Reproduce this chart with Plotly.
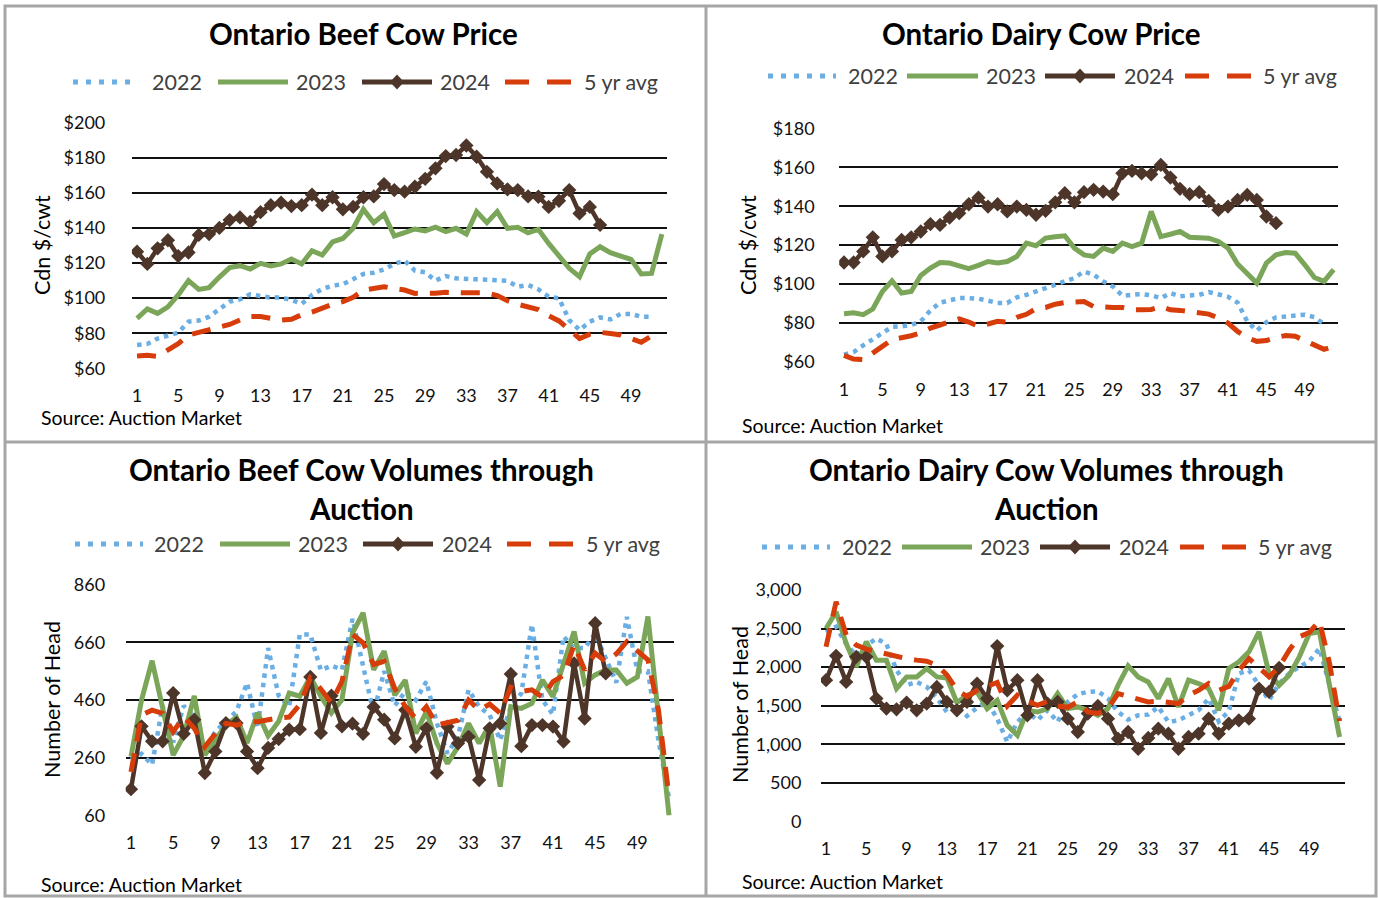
import plotly.graph_objects as go

# ---------------- data ----------------
weeks = list(range(1, 53))
x_tick_vals = list(range(1, 50, 4))
series_names = ["2022", "2023", "2024", "5 yr avg"]

beef_price_2022 = [73.3, 73.9, 77.0, 78.4, 80.3, 86.6, 87.2, 89.4, 93.6, 98.0,
                   99.3, 102.2, 101.2, 100.3, 100.3, 99.0, 96.7, 101.8, 105.2, 107.1,
                   107.9, 110.7, 113.8, 114.5, 116.4, 119.5, 121.4, 115.7, 114.7, 110.0,
                   112.6, 111.3, 110.7, 110.7, 110.5, 110.3, 109.8, 106.5, 107.5, 105.0,
                   100.8, 99.9, 87.5, 81.8, 86.6, 89.0, 87.9, 91.0, 91.0, 89.4,
                   89.4, None]
beef_price_2023 = [88.5, 93.8, 91.3, 95.0, 101.8, 110.0, 105.0, 106.0, 112.0, 117.4,
                   118.5, 116.6, 119.8, 118.3, 119.5, 122.3, 119.5, 127.0, 124.6, 132.0,
                   134.0, 139.8, 150.6, 143.0, 147.8, 135.4, 137.3, 139.4, 138.3, 140.4,
                   137.9, 139.8, 136.5, 149.3, 143.0, 149.3, 139.8, 140.4, 137.3, 139.2,
                   131.2, 124.6, 117.0, 112.2, 125.2, 129.3, 125.9, 124.0, 122.1, 113.8,
                   114.1, 136.5]
beef_price_2024 = [126.5, 119.5, 128.4, 133.0, 124.0, 126.0, 136.0, 136.5, 140.0, 144.5,
                   146.0, 143.5, 149.0, 153.0, 154.4, 152.5, 153.0, 159.0, 153.0, 157.5,
                   150.6, 152.0, 157.5, 158.0, 165.0, 161.6, 160.7, 163.5, 168.0, 174.0,
                   181.0, 181.6, 187.0, 180.6, 172.0, 165.4, 162.0, 161.6, 158.0, 157.8,
                   152.0, 155.5, 161.6, 148.3, 152.0, 141.7, None, None, None, None,
                   None, None]
beef_price_5yr = [67.0, 67.4, 66.8, 70.0, 74.0, 79.0, 80.5, 82.0, 83.5, 85.0,
                  87.5, 89.5, 89.5, 88.5, 87.5, 88.0, 90.5, 92.0, 94.5, 96.5,
                  98.0, 100.5, 104.5, 105.5, 106.5, 105.5, 104.6, 102.7, 102.5, 102.8,
                  103.3, 103.5, 103.0, 103.0, 103.0, 101.5, 98.5, 96.5, 95.0, 93.5,
                  90.0, 87.0, 82.0, 77.0, 79.5, 80.5, 79.8, 79.0, 77.0, 74.8,
                  78.5, None]

dairy_price_2022 = [63.8, 65.1, 68.5, 71.5, 74.5, 78.0, 78.3, 79.0, 80.9, 86.5,
                    90.5, 91.5, 92.8, 92.8, 92.5, 91.5, 90.3, 90.3, 93.2, 94.5,
                    96.2, 98.3, 100.0, 101.4, 103.1, 106.5, 104.8, 101.4, 98.8, 94.0,
                    94.5, 94.9, 94.2, 92.8, 95.4, 93.7, 94.2, 94.5, 95.9, 94.5,
                    93.5, 90.5, 80.9, 76.1, 80.5, 82.9, 83.5, 84.1, 84.3, 83.0,
                    79.5, None]
dairy_price_2023 = [84.8, 85.3, 84.3, 87.2, 96.2, 101.7, 95.4, 96.2, 104.4, 108.2,
                    111.1, 110.8, 109.4, 107.9, 109.6, 111.6, 110.8, 111.6, 114.2, 121.0,
                    119.7, 123.6, 124.3, 124.8, 118.5, 115.0, 114.2, 118.5, 116.8, 121.0,
                    119.3, 121.0, 137.3, 124.4, 125.6, 127.0, 124.1, 123.6, 123.6, 121.9,
                    118.5, 110.3, 105.1, 100.5, 110.8, 115.0, 116.2, 115.9, 109.9, 103.4,
                    101.4, 107.4]
dairy_price_2024 = [111.1, 111.1, 116.8, 124.0, 114.2, 116.8, 122.7, 124.0, 127.0, 130.8,
                    130.4, 134.2, 136.4, 141.0, 144.4, 139.8, 141.0, 137.3, 139.8, 138.1,
                    135.6, 137.6, 142.0, 146.7, 142.0, 147.2, 148.4, 147.5, 146.2, 156.9,
                    158.1, 156.9, 156.4, 161.2, 154.7, 148.9, 146.2, 147.2, 142.7, 138.1,
                    139.8, 143.2, 145.8, 143.2, 134.7, 131.3, None, None, None, None,
                    None, None]
dairy_price_5yr = [63.4, 61.5, 61.2, 65.0, 68.0, 71.5, 72.3, 73.5, 74.9, 77.4,
                   79.0, 80.5, 82.2, 80.5, 78.3, 79.5, 80.9, 80.5, 82.9, 84.5,
                   87.4, 88.0, 89.7, 90.5, 90.8, 91.1, 88.5, 88.0, 88.0, 88.0,
                   86.8, 86.8, 87.0, 88.5, 86.8, 86.5, 86.0, 85.1, 84.6, 82.6,
                   80.0, 75.7, 72.6, 70.6, 71.0, 72.6, 73.6, 73.2, 71.0, 69.2,
                   66.5, 68.0]

beef_vol_2022 = [253, 274, 236, 440, 313, 440, 400, 290, 351, 386,
                 421, 519, 363, 640, 475, 438, 687, 687, 563, 579,
                 565, 741, 580, 415, 560, 440, 489, 460, 524, 379,
                 275, 333, 495, 437, 408, 321, 437, 483, 722, 460,
                 410, 680, 640, 640, 690, 600, 520, 748, 560, 560,
                 320, 120]
beef_vol_2023 = [264, 460, 596, 438, 269, 336, 474, 269, 322, 374,
                 400, 311, 416, 336, 386, 484, 473, 540, 473, 415,
                 461, 692, 762, 565, 629, 477, 529, 344, 420, 310,
                 240, 298, 379, 310, 373, 160, 437, 431, 448, 529,
                 472, 582, 697, 518, 547, 564, 564, 518, 540, 749,
                 402, 60]
beef_vol_2024 = [151, 369, 317, 317, 484, 343, 392, 207, 282, 380,
                 380, 282, 224, 294, 325, 357, 359, 540, 346, 475,
                 369, 378, 343, 436, 392, 327, 425, 298, 362, 208,
                 368, 310, 333, 183, 362, 379, 550, 300, 373, 373,
                 368, 316, 587, 396, 726, 552, None, None, None, None,
                 None, None]
beef_vol_5yr = [211, 408, 425, 414, 350, 402, 362, 298, 344, 379,
                373, 385, 385, 393, 398, 401, 444, 536, 498, 450,
                525, 687, 658, 583, 594, 500, 437, 396, 437, 373,
                380, 390, 460, 425, 446, 414, 504, 490, 495, 470,
                524, 545, 651, 564, 622, 593, 620, 662, 630, 599,
                425, 125]

dairy_vol_2022 = [2450, 2524, 2300, 2150, 2280, 2372, 2300, 1961, 1766, 1809,
                  1744, 1600, 1420, 1500, 1368, 1476, 1550, 1333, 1030, 1290,
                  1420, 1311, 1441, 1290, 1550, 1650, 1680, 1688, 1593, 1420,
                  1320, 1376, 1385, 1485, 1290, 1311, 1376, 1441, 1593, 1298,
                  1428, 1918, 1961, 1766, 1571, 1788, 1918, 2004, 2078, 2242,
                  1750, 1300]
dairy_vol_2023 = [2502, 2719, 2307, 2004, 2329, 2091, 2091, 1723, 1874, 1874,
                  1982, 1874, 1861, 1541, 1636, 1680, 1463, 1571, 1246, 1116,
                  1441, 1419, 1463, 1658, 1463, 1485, 1441, 1376, 1463, 1766,
                  2017, 1874, 1809, 1593, 1853, 1485, 1831, 1788, 1723, 1441,
                  1983, 2069, 2199, 2459, 1918, 1766, 1896, 2134, 2437, 2459,
                  1766, 1095]
dairy_vol_2024 = [1831, 2147, 1809, 2134, 2134, 1593, 1463, 1454, 1541, 1441,
                  1528, 1744, 1549, 1441, 1549, 1788, 1593, 2273, 1701, 1831,
                  1376, 1831, 1528, 1549, 1333, 1160, 1398, 1498, 1333, 1073,
                  1160, 943, 1082, 1203, 1138, 943, 1095, 1138, 1333, 1138,
                  1268, 1311, 1333, 1723, 1680, 1991, None, None, None, None,
                  None, None]
dairy_vol_5yr = [2264, 2848, 2415, 2285, 2234, 2200, 2177, 2134, 2110, 2091,
                 2078, 2026, 1900, 1701, 1620, 1700, 1744, 1801, 1498, 1636,
                 1560, 1506, 1558, 1498, 1480, 1550, 1420, 1400, 1463, 1658,
                 1620, 1593, 1550, 1560, 1540, 1528, 1636, 1700, 1788, 1701,
                 1750, 1960, 2112, 2000, 1874, 2004, 2220, 2394, 2450, 2600,
                 2050, 1300]

# ---------------- styling / layout ----------------
W, H = 1378, 898
FONT = "Lato"
C22, C23, C24, CAVG = "#6AAEE3", "#7BA65A", "#4D3629", "#D73D0A"
GRID = "#111111"
BORDER = "#A6A6A6"


def px(x):
    return x / W


def py(y):
    return 1 - y / H


panels = [
    dict(data=(beef_price_2022, beef_price_2023, beef_price_2024, beef_price_5yr),
         box=(131.9, 667.0, 122.7, 368.3), yrange=[60, 200], dtick=20, prefix="$", fmt="",
         ystand=22, title=["Ontario Beef Cow Price"], tx=363, ty=[33],
         leg_y=82, leg=[(73, 138, 150), (218, 288, 294), (362, 432, 438), (505, 571, 582)],
         ytitle="Cdn $/cwt", ytx=42, yty=245, src=(39, 418)),
    dict(data=(dairy_price_2022, dairy_price_2023, dairy_price_2024, dairy_price_5yr),
         box=(839.2, 1338.4, 128.3, 362.0), yrange=[60, 180], dtick=20, prefix="$", fmt="",
         ystand=20, title=["Ontario Dairy Cow Price"], tx=1041, ty=[33],
         leg_y=76, leg=[(768, 836, 846), (907, 978, 984), (1045, 1115, 1122), (1185, 1251, 1261)],
         ytitle="Cdn $/cwt", ytx=748, yty=245, src=(740, 425)),
    dict(data=(beef_vol_2022, beef_vol_2023, beef_vol_2024, beef_vol_5yr),
         box=(125.7, 674.3, 584.5, 815.5), yrange=[60, 860], dtick=200, prefix="", fmt="",
         ystand=16, title=["Ontario Beef Cow Volumes through", "Auction"], tx=361, ty=[469, 508],
         leg_y=544, leg=[(75, 143, 152), (220, 290, 296), (363, 433, 440), (507, 573, 584)],
         ytitle="Number of Head", ytx=52, yty=700, src=(39, 884)),
    dict(data=(dairy_vol_2022, dairy_vol_2023, dairy_vol_2024, dairy_vol_5yr),
         box=(821.0, 1344.6, 590.0, 821.5), yrange=[0, 3000], dtick=500, prefix="", fmt=",",
         ystand=15, title=["Ontario Dairy Cow Volumes through", "Auction"], tx=1046, ty=[469, 508],
         leg_y=547, leg=[(762, 830, 840), (902, 972, 978), (1040, 1110, 1117), (1180, 1246, 1256)],
         ytitle="Number of Head", ytx=740, yty=705, src=(740, 881)),
]

fig = go.Figure()
shapes = []
annotations = []

styles = [
    dict(line=dict(color=C22, width=4.5, dash="4.5px,5px"), mode="lines"),
    dict(line=dict(color=C23, width=5), mode="lines"),
    dict(line=dict(color=C24, width=4.5), mode="lines+markers",
         marker=dict(symbol="diamond", size=11, color=C24)),
    dict(line=dict(color=CAVG, width=5, dash="19px,12px"), mode="lines"),
]

layout = dict(template="none", width=W, height=H, autosize=False,
              margin=dict(l=0, r=0, t=0, b=0, pad=0, autoexpand=False),
              paper_bgcolor="white", plot_bgcolor="white", showlegend=False,
              font=dict(family=FONT, color="#111111"))

for i, p in enumerate(panels, start=1):
    xa = "x" if i == 1 else f"x{i}"
    ya = "y" if i == 1 else f"y{i}"
    for name, vals, st in zip(series_names, p["data"], styles):
        fig.add_trace(go.Scatter(x=weeks, y=vals, name=name, xaxis=xa, yaxis=ya,
                                 connectgaps=False, **st))
    x0, x1, y0, y1 = p["box"]
    layout["xaxis" if i == 1 else f"xaxis{i}"] = dict(
        domain=[px(x0), px(x1)], range=[0.5, 52.5], anchor=ya, automargin=False,
        tickvals=x_tick_vals, showgrid=False, zeroline=False, showline=False,
        ticks="outside", ticklen=11, tickcolor="rgba(0,0,0,0)",
        tickfont=dict(family=FONT, size=18, color="#111111"), fixedrange=True)
    layout["yaxis" if i == 1 else f"yaxis{i}"] = dict(
        domain=[py(y1), py(y0)], range=p["yrange"], dtick=p["dtick"], tick0=p["yrange"][0],
        anchor=xa, tickprefix=p["prefix"], tickformat=p["fmt"], automargin=False,
        showgrid=True, gridcolor=GRID, gridwidth=2, zeroline=False, showline=False,
        ticks="outside", ticklen=p["ystand"], tickcolor="rgba(0,0,0,0)",
        tickfont=dict(family=FONT, size=18, color="#111111"), fixedrange=True)

    # titles
    for t, ty in zip(p["title"], p["ty"]):
        annotations.append(dict(text=f"<b>{t}</b>", x=px(p["tx"]), y=py(ty), xref="paper", yref="paper",
                                xanchor="center", yanchor="middle", showarrow=False,
                                font=dict(family=FONT, size=29.5, color="#000000")))
    # y axis title
    annotations.append(dict(text=p["ytitle"], x=px(p["ytx"]), y=py(p["yty"]), xref="paper", yref="paper",
                            xanchor="center", yanchor="middle", textangle=-90, showarrow=False,
                            font=dict(family=FONT, size=21.5, color="#000000")))
    # source
    annotations.append(dict(text="Source: Auction Market", x=px(p["src"][0]), y=py(p["src"][1]),
                            xref="paper", yref="paper", xanchor="left", yanchor="middle",
                            showarrow=False, font=dict(family=FONT, size=19.5, color="#000000")))
    # manual legend
    ly = py(p["leg_y"])
    leg_styles = [
        dict(color=C22, width=5, dash="5px,8px"),
        dict(color=C23, width=5),
        dict(color=C24, width=5),
        dict(color=CAVG, width=5, dash="24px,18px"),
    ]
    for (sx0, sx1, tx), name, ls in zip(p["leg"], series_names, leg_styles):
        shapes.append(dict(type="line", xref="paper", yref="paper", x0=px(sx0), x1=px(sx1),
                           y0=ly, y1=ly, line=ls))
        annotations.append(dict(text=name, x=px(tx), y=ly, xref="paper", yref="paper",
                                xanchor="left", yanchor="middle", showarrow=False,
                                font=dict(family=FONT, size=21.5, color="#404040")))
        if name == "2024":
            cx, cy = (sx0 + sx1) / 2, p["leg_y"]
            path = (f"M {px(cx)},{py(cy - 7.5)} L {px(cx + 7)},{py(cy)} "
                    f"L {px(cx)},{py(cy + 7.5)} L {px(cx - 7)},{py(cy)} Z")
            shapes.append(dict(type="path", xref="paper", yref="paper", path=path,
                               fillcolor=C24, line=dict(width=0)))

# panel borders
bl = dict(color=BORDER, width=3)
shapes += [
    dict(type="rect", xref="paper", yref="paper", x0=px(5), x1=px(1376), y0=py(896), y1=py(6), line=bl),
    dict(type="line", xref="paper", yref="paper", x0=px(706), x1=px(706), y0=py(896), y1=py(6), line=bl),
    dict(type="line", xref="paper", yref="paper", x0=px(5), x1=px(1376), y0=py(442), y1=py(442), line=bl),
]

layout["shapes"] = shapes
layout["annotations"] = annotations
fig.update_layout(**layout)

fig.write_html(
    "out.html",
    config={"displayModeBar": False, "responsive": False},
    post_script=("var gd=document.getElementById('{plot_id}');"
                 "gd.style.position='fixed';gd.style.top='0px';gd.style.left='0px';"
                 "document.body.style.margin='0';document.body.style.overflow='hidden';"),
)
